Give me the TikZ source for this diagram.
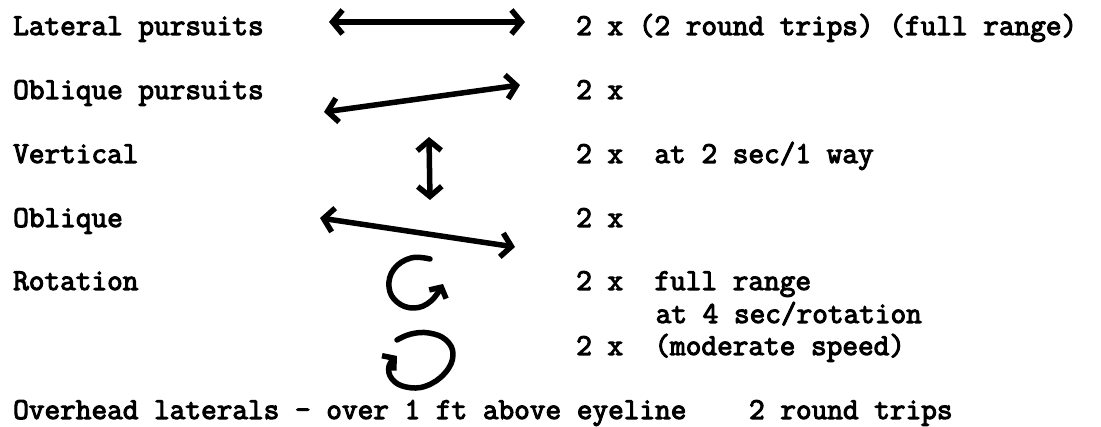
\documentclass[tikz,border=0pt]{standalone}
\usepackage{fontspec}
\setmonofont{Latin Modern Mono}[AutoFakeBold=3.5]
\usetikzlibrary{arrows.meta}
\begin{document}
\begin{tikzpicture}[x=1pt,y=-1pt,
  txt/.style={anchor=base west, inner sep=0pt, font=\ttfamily\bfseries\fontsize{30.4}{34}\selectfont},
  hand/.style={line width=5.5pt, line cap=round, line join=round,
    {Straight Barb[length=10pt,width=24pt]}-{Straight Barb[length=10pt,width=24pt]}},
  handone/.style={line width=5.5pt, line cap=round, line join=round,
    -{Straight Barb[length=8pt,width=19pt]}}]
\useasboundingbox (0,0) rectangle (1101,427);
% texts
\node[txt] (l1) at (13,35) {Lateral pursuits};
\node[txt] (r1) at (576,35) {2 x (2 round trips) (full range)};
\node[txt] (l2) at (13,99) {Oblique pursuits};
\node[txt] (r2) at (576,99) {2 x};
\node[txt] (l3) at (13,163) {Vertical};
\node[txt] (r3) at (576,163) {2 x~~at 2 sec/1 way};
\node[txt] (l4) at (13,227) {Oblique};
\node[txt] (r4) at (576,227) {2 x};
\node[txt] (l5) at (13,290) {Rotation};
\node[txt] (r5) at (576,290) {2 x~~full range};
\node[txt] (r6) at (655.5,323) {at 4 sec/rotation};
\node[txt] (r7) at (576,355) {2 x~~(moderate speed)};
\node[txt] (l8) at (13,419) {Overhead laterals - over 1 ft above eyeline~~~~2 round trips};
% arrow end points
\coordinate (a1s) at (329,22);
\coordinate (a1e) at (525,22);
\coordinate (a2s) at (324,112);
\coordinate (a2e) at (520,85);
\coordinate (a3s) at (429,137);
\coordinate (a3e) at (430,200);
\coordinate (a4s) at (320,218);
\coordinate (a4e) at (515,247);
\draw[hand] (a1s) -- (a1e);
\draw[hand] (a2s) -- (a2e);
\draw[hand] (a3s) -- (a3e);
\draw[hand] (a4s) -- (a4e);
% rotation symbols
\draw[handone] plot[smooth, tension=0.7] coordinates
  {(430,259) (411,258) (394,269) (389,287) (397,302) (414,308) (431,301) (443,284)};
\draw[handone] plot[smooth, tension=0.7] coordinates
  {(397,340) (411,334) (429,333) (446,340) (453,355) (445,373) (426,386) (406,387) (392,379) (389,366) (397,356)};
\end{tikzpicture}
\end{document}
